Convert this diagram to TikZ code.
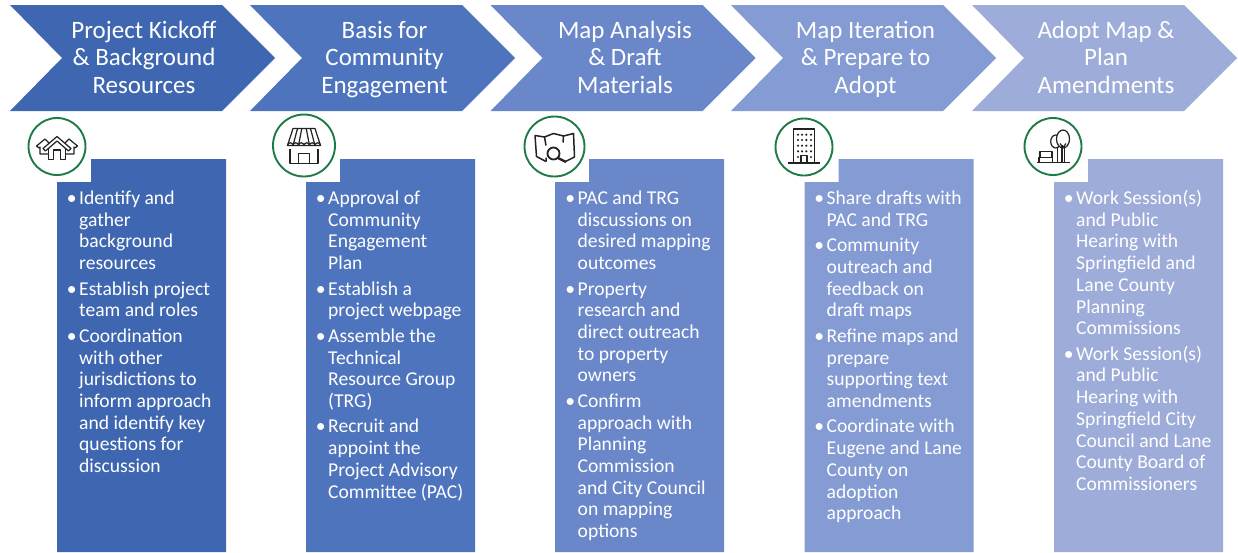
\documentclass[tikz,border=0pt]{standalone}
\usepackage{fontspec}
\setmainfont{Carlito}
\definecolor{cA}{HTML}{3F67B1}
\definecolor{cB}{HTML}{4F74BE}
\definecolor{cC}{HTML}{6A88C9}
\definecolor{cD}{HTML}{849BD3}
\definecolor{cE}{HTML}{9DACD8}
\definecolor{ring}{HTML}{1E7B45}
\definecolor{ink}{HTML}{222222}
\newcommand{\bul}{\leavevmode\vphantom{Ag(}\llap{\textbullet\hspace{2.5pt}}}
\newcommand{\hs}{\vphantom{Ag(}}
\newcommand{\chev}[2]{\fill[#2] (#1,5) -- ++(212,0) -- ++(53,53) -- ++(-53,53) -- ++(-212,0) -- ++(52,-53) -- cycle;}
\newcommand{\bodybox}[2]{\fill[#2] (#1+34,159) -- (#1+169,159) -- (#1+169,552) -- (#1,552) -- (#1,182) -- (#1+34,182) -- cycle;}
\tikzset{
  x=1pt,y=-1pt,
  headtext/.style={text=white,font=\fontsize{25}{27.5}\selectfont,align=center,inner sep=0pt,anchor=center},
  bodytext/.style={text=white,font=\fontsize{19.6}{21.7}\selectfont,align=left,inner sep=0pt,anchor=north west},
  badge/.style={circle,draw=ring,fill=white,line width=1.9pt,inner sep=0pt},
  icon/.style={draw=ink,line width=1.2pt,line join=round,fill=none}
}
\begin{document}
\begin{tikzpicture}
\useasboundingbox (0,0) rectangle (1238,552);
\chev{10}{cA}
\chev{250}{cB}
\chev{490.5}{cC}
\chev{731}{cD}
\chev{972}{cE}
\bodybox{57}{cA}
\bodybox{306}{cB}
\bodybox{555}{cC}
\bodybox{804.5}{cD}
\bodybox{1054}{cE}

\node[headtext] (h1) at (144,59) {\hs Project Kickoff\\\hs\& Background\\\hs Resources};
\node[headtext] (h2) at (384.5,59) {\hs Basis for\\\hs Community\\\hs Engagement};
\node[headtext] (h3) at (625,59) {\hs Map Analysis\\\hs\& Draft\\\hs Materials};
\node[headtext] (h4) at (865.5,59) {\hs Map Iteration\\\hs\& Prepare to\\\hs Adopt};
\node[headtext] (h5) at (1106,59) {\hs Adopt Map \&\\\hs Plan\\\hs Amendments};

\node[bodytext] (b1) at (79,190) {\bul Identify and\\gather\\background\\resources\\[3.8pt]
\bul Establish project\\team and roles\\[3.8pt]
\bul Coordination\\with other\\jurisdictions to\\inform approach\\and identify key\\questions for\\discussion};
\node[bodytext] (b2) at (328,190) {\bul Approval of\\Community\\Engagement\\Plan\\[3.8pt]
\bul Establish a\\project webpage\\[3.8pt]
\bul Assemble the\\Technical\\Resource Group\\(TRG)\\[3.8pt]
\bul Recruit and\\appoint the\\Project Advisory\\Committee (PAC)};
\node[bodytext] (b3) at (577.5,190) {\bul PAC and TRG\\discussions on\\desired mapping\\outcomes\\[3.8pt]
\bul Property\\research and\\direct outreach\\to property\\owners\\[3.8pt]
\bul Confirm\\approach with\\Planning\\Commission\\and City Council\\on mapping\\options};
\node[bodytext] (b4) at (826.5,190) {\bul Share drafts with\\PAC and TRG\\[3.8pt]
\bul Community\\outreach and\\feedback on\\draft maps\\[3.8pt]
\bul Refine maps and\\prepare\\supporting text\\amendments\\[3.8pt]
\bul Coordinate with\\Eugene and Lane\\County on\\adoption\\approach};
\node[bodytext] (b5) at (1076,190) {\bul Work Session(s)\\and Public\\Hearing with\\Springfield and\\Lane County\\Planning\\Commissions\\[3.8pt]
\bul Work Session(s)\\and Public\\Hearing with\\Springfield City\\Council and Lane\\County Board of\\Commissioners};

% badges
\node[badge,minimum size=57pt] (c1) at (57,146.5) {};
\node[badge,minimum size=62pt] (c2) at (304,145.5) {};
\node[badge,minimum size=60pt] (c3) at (554.5,146.5) {};
\node[badge,minimum size=57pt] (c4) at (804,147) {};
\node[badge,minimum size=57pt] (c5) at (1053,146.5) {};

% houses
\begin{scope}[shift={(c1.center)}]
\draw[icon] (-8.5,2) -- (-8.5,13) -- (-3.5,13) -- (-3.5,3.5) -- (3.5,3.5) -- (3.5,13) -- (8.5,13) -- (8.5,2);
\draw[icon] (-14,2) -- (0,-10) -- (14,2) -- (11.5,4.5) -- (0,-5.5) -- (-11.5,4.5) -- cycle;
\draw[icon] (-8,-3.5) -- (-12,-7.5) -- (-20.5,-0.5) -- (-18,1.5) -- (-17,0.5) -- (-17,7.5) -- (-8.5,7.5);
\draw[icon] (8,-3.5) -- (12,-7.5) -- (20.5,-0.5) -- (18,1.5) -- (17,0.5) -- (17,7.5) -- (8.5,7.5);
\end{scope}

% shop
\begin{scope}[shift={(c2.center)}]
\draw[icon] (-11,-17) -- (11,-17) -- (16.5,0) -- (-16.5,0) -- cycle;
\draw[icon] (-6.5,-17) -- (-11,0) (-2.2,-17) -- (-5.5,0) (2.2,-17) -- (5.5,0) (6.5,-17) -- (11,0);
\draw[icon] (-16.5,0) arc[start angle=180,end angle=360,radius=2.75]
  arc[start angle=180,end angle=360,radius=2.75] arc[start angle=180,end angle=360,radius=2.75]
  arc[start angle=180,end angle=360,radius=2.75] arc[start angle=180,end angle=360,radius=2.75]
  arc[start angle=180,end angle=360,radius=2.75];
\draw[icon] (-14,3) -- (-14,18) -- (14,18) -- (14,3);
\draw[icon] (-5.5,18) -- (-5.5,8) -- (5.5,8) -- (5.5,18);
\end{scope}

% map with magnifier
\begin{scope}[shift={(c3.center)}]
\draw[icon,line width=1.5pt] (-8.5,15) -- (-18,10) -- (-19.5,-11) -- (-10,-9.5) -- (-1,-13) -- (9,-10.5) -- (19,-13) -- (20,10.5) -- (11,15);
\draw[icon,line width=1.5pt] (-10,-9.5) -- (-8.5,-1) (9,-10.5) -- (8.5,-4) (-8.5,15) -- (-8.5,11);
\draw[icon,line width=1.8pt] (-1,7) circle[radius=6];
\draw[icon,line width=2.4pt] (3.5,11.5) -- (11.5,15.5);
\end{scope}

% building
\begin{scope}[shift={(c4.center)}]
\draw[icon] (-10.5,16) -- (-10.5,-18) -- (10.5,-18) -- (10.5,16);
\draw[icon,line width=1.3pt] (-16,16) -- (16,16);
\draw[icon] (-3,16) -- (-3,8.7) -- (3,8.7) -- (3,16);
\foreach \y in {-12.3,-7,-1.3,4.3}
  \foreach \x in {-6,-2,2.3,7}
    \fill[ink] (\x,\y) circle[radius=1.2];
\fill[ink] (-6,10) circle[radius=1.2] (7,10) circle[radius=1.2];
\end{scope}

% bench and trees
\begin{scope}[shift={(c5.center)}]
\draw[icon] (2.7,-5) ellipse[x radius=5,y radius=6.5];
\draw[icon,fill=white] (10,-7.5) ellipse[x radius=6.5,y radius=9];
\draw[icon] (9,16) -- (9,-2) (11.5,16) -- (11.5,-2) (4.3,16) -- (4.3,1.5);
\draw[icon] (10,1) -- (13,-3) (10,1) -- (7,-3);
\draw[icon,line width=1.3pt] (-16,16) -- (17,16);
\draw[icon] (-13,11) -- (-13,5) -- (-1,5) -- (-1,11);
\draw[icon,line width=1.5pt] (-15,11) -- (0,11) (-14,16) -- (-14,11) (-0.5,16) -- (-0.5,11);
\end{scope}
\end{tikzpicture}
\end{document}
